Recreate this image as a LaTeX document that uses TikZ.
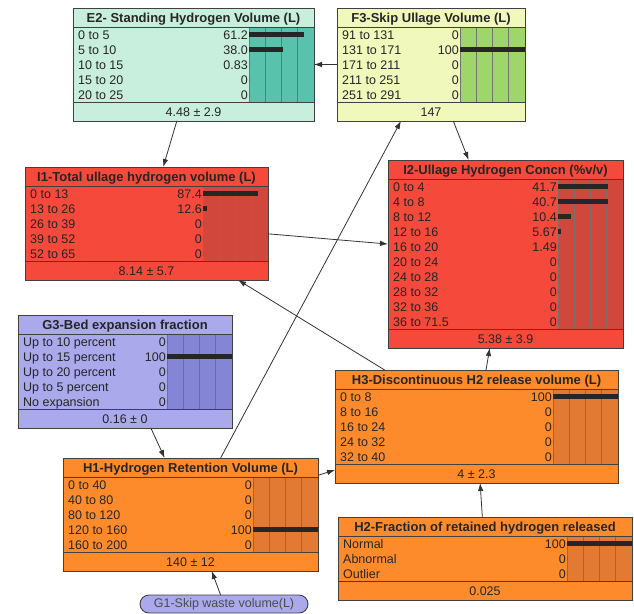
\documentclass[tikz,border=0pt]{standalone}
\usepackage{fontspec}
\setmainfont{Liberation Sans}
\usetikzlibrary{arrows.meta}

\definecolor{mint}{HTML}{C8EEDD}
\definecolor{mintbar}{HTML}{58C2AD}
\definecolor{lemon}{HTML}{F0F8BC}
\definecolor{lemonbar}{HTML}{9FD66A}
\definecolor{tomato}{HTML}{F4493B}
\definecolor{tomatobar}{HTML}{D2473B}
\definecolor{lilac}{HTML}{A9A9EC}
\definecolor{lilacbar}{HTML}{8585D6}
\definecolor{amber}{HTML}{FD8B2C}
\definecolor{amberbar}{HTML}{E27A33}

% #1 name, #2 colour, #3 left, #4 top, #5 width, #6 number of rows,
% #7 title, #8 rows (label/value/bar), #9 footer
\newcommand{\netbox}[9]{%
  \pgfmathsetmacro{\bh}{38+15*#6}%
  \pgfmathsetmacro{\bx}{#3+#5-65}%
  \node[box, fill=#2, minimum width=#5pt, minimum height=\bh pt] (#1) at (#3,#4) {};
  \fill[#2bar] (\bx,{#4+19}) rectangle ({#3+#5},{#4+\bh-19});
  \foreach \q in {0,0.25,0.5,0.75}
    \draw[grid] ({\bx+65*\q},{#4+19}) -- ({\bx+65*\q},{#4+\bh-19});
  \draw[sep] (#3,{#4+19}) -- ({#3+#5},{#4+19});
  \draw[sep] (#3,{#4+\bh-19}) -- ({#3+#5},{#4+\bh-19});
  \node[titletxt, anchor=base] at ({#3+#5/2},{#4+14}) {#7};
  \foreach \rl/\rv/\rb [count=\ri] in {#8} {
    \pgfmathsetmacro{\ry}{#4+19+15*\ri-7.5}
    \node[rowtxt, anchor=base west] at ({#3+5},{\ry+4.5}) {\rl};
    \node[rowtxt, anchor=base east] at ({\bx-1},{\ry+4.5}) {\rv};
    \fill[barline] (\bx,{\ry-2.5}) rectangle ({\bx+65*\rb},{\ry+2.5});
  }
  \node[rowtxt, anchor=base] at ({#3+#5/2},{#4+\bh-5}) {#9};
  \draw[sep] (#1.north west) rectangle (#1.south east);
}

\begin{document}
\begin{tikzpicture}[x=1pt, y=-1pt,
    box/.style={draw=black!75, line width=0.9pt, anchor=north west,
      inner sep=0pt, outer sep=0pt},
    sep/.style={draw=black!75, line width=0.9pt},
    grid/.style={draw=black!55, line width=0.7pt},
    barline/.style={fill=black!85},
    titletxt/.style={font=\fontsize{13}{15}\selectfont\bfseries, inner sep=0pt,
      text=black!85},
    rowtxt/.style={font=\fontsize{12.5}{14}\selectfont, inner sep=0pt,
      text=black!85},
    pill/.style={draw=black!75, line width=0.9pt, fill=lilac, rounded corners=9pt,
      minimum width=168pt, minimum height=18pt, inner sep=0pt, outer sep=0pt,
      font=\fontsize{12.5}{14}\selectfont, text=black!70},
    arr/.style={draw=black!80, line width=0.8pt, -{Latex[length=8pt,width=5.5pt]}}]
  \fill[white] (0,0) rectangle (634,612);

  \netbox{e2}{mint}{73}{8}{241}{5}{E2- Standing Hydrogen Volume (L)}
    {0 to 5/61.2/0.85, 5 to 10/38.0/0.52, 10 to 15/0.83/0, 15 to 20/0/0, 20 to 25/0/0}
    {4.48 ± 2.9}
  \netbox{f3}{lemon}{337}{8}{188}{5}{F3-Skip Ullage Volume (L)}
    {91 to 131/0/0, 131 to 171/100/1, 171 to 211/0/0, 211 to 251/0/0, 251 to 291/0/0}
    {147}
  \netbox{i1}{tomato}{25}{167}{243}{5}{I1-Total ullage hydrogen volume (L)}
    {0 to 13/87.4/0.84, 13 to 26/12.6/0.06, 26 to 39/0/0, 39 to 52/0/0, 52 to 65/0/0}
    {8.14 ± 5.7}
  \netbox{i2}{tomato}{388}{160}{235}{10}{I2-Ullage Hydrogen Concn (\%v/v)}
    {0 to 4/41.7/0.77, 4 to 8/40.7/0.77, 8 to 12/10.4/0.2, 12 to 16/5.67/0.05,
     16 to 20/1.49/0, 20 to 24/0/0, 24 to 28/0/0, 28 to 32/0/0, 32 to 36/0/0,
     36 to 71.5/0/0}
    {5.38 ± 3.9}
  \netbox{g3}{lilac}{18}{315}{214}{5}{G3-Bed expansion fraction}
    {Up to 10 percent/0/0, Up to 15 percent/100/1, Up to 20 percent/0/0,
     Up to 5 percent/0/0, No expansion/0/0}
    {0.16 ± 0}
  \netbox{h3}{amber}{335}{370}{283}{5}{H3-Discontinuous H2 release volume (L)}
    {0 to 8/100/1, 8 to 16/0/0, 16 to 24/0/0, 24 to 32/0/0, 32 to 40/0/0}
    {4 ± 2.3}
  \netbox{h1}{amber}{63}{458}{255}{5}{H1-Hydrogen Retention Volume (L)}
    {0 to 40/0/0, 40 to 80/0/0, 80 to 120/0/0, 120 to 160/100/1, 160 to 200/0/0}
    {140 ± 12}
  \netbox{h2}{amber}{338}{517}{294}{3}{H2-Fraction of retained hydrogen released}
    {Normal/100/1, Abnormal/0/0, Outlier/0/0}
    {0.025}
  \node[pill] (g1) at (224,604) {G1-Skip waste volume(L)};

  \draw[arr] (f3) -- (e2);
  \draw[arr] (e2) -- (i1);
  \draw[arr] (f3) -- (i2);
  \draw[arr] (i1) -- (i2);
  \draw[arr] (h1) -- (f3);
  \draw[arr] (h3) -- (i1);
  \draw[arr] (h3) -- (i2);
  \draw[arr] (g3) -- (h1);
  \draw[arr] (h1) -- (h3);
  \draw[arr] (h2) -- (h3);
  \draw[arr] (g1) -- (h1);
\end{tikzpicture}
\end{document}
